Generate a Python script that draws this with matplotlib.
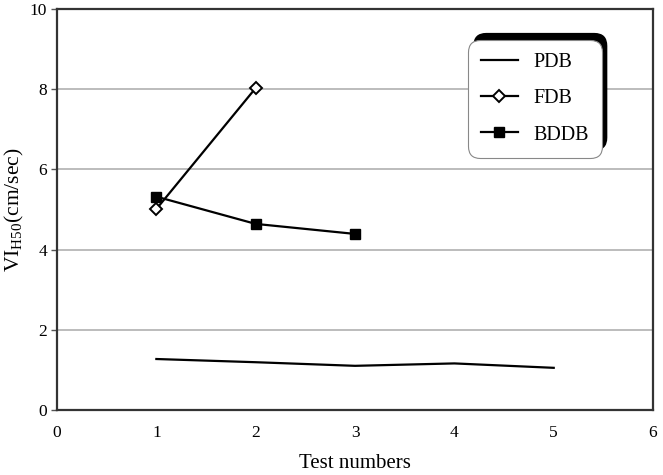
import matplotlib
matplotlib.use("Agg")
import matplotlib.pyplot as plt
from matplotlib.patches import FancyBboxPatch
from matplotlib.transforms import IdentityTransform

# data
pdb_x = [1, 2, 3, 4, 5]
pdb_y = [1.27, 1.19, 1.10, 1.16, 1.05]
fdb_x = [1, 2]
fdb_y = [5.01, 8.03]
bddb_x = [1, 2, 3]
bddb_y = [5.32, 4.64, 4.39]

plt.rcParams['font.family'] = ['Liberation Serif', 'DejaVu Serif']

fig = plt.figure(figsize=(6.63, 4.75), dpi=100)
ax = fig.add_axes([0.086, 0.137, 0.899, 0.844])

ax.plot(pdb_x, pdb_y, "-", color="black", lw=1.6, label="PDB")
ax.plot(fdb_x, fdb_y, "-D", color="black", lw=1.6, mfc="white", mec="black",
        mew=1.4, ms=6.5, label="FDB")
ax.plot(bddb_x, bddb_y, "-s", color="black", lw=1.6, ms=7, label="BDDB")

ax.set_xlim(0, 6); ax.set_ylim(0, 10)
ax.set_xticks(range(0, 7)); ax.set_yticks(range(0, 11, 2))
ax.yaxis.grid(True, color="#aaaaaa", lw=1.1)
ax.set_axisbelow(True)
ax.tick_params(labelsize=12.5, color="#555555")
ax.tick_params(axis="x", length=0, pad=11)
ax.tick_params(axis="y", length=4, width=1, pad=3)
for s in ax.spines.values():
    s.set_linewidth(1.6)
    s.set_color("#333333")
ax.set_xlabel("Test numbers", fontsize=15, labelpad=9)
ax.set_ylabel(r"VI$_{\mathregular{H50}}$(cm/sec)", fontsize=15.5, labelpad=3)

leg = ax.legend(loc="upper left", bbox_to_anchor=(0.690, 0.923), borderaxespad=0,
                fontsize=14.5, handlelength=1.8, labelspacing=0.85, borderpad=0.65,
                handletextpad=0.8, fancybox=True, framealpha=1, edgecolor="#888888")
leg.get_frame().set_linewidth(0.8)
leg.get_frame().set_boxstyle("round", pad=0, rounding_size=0.6)
leg.set_zorder(5)

# shadow offset to the upper right, as in the reference
fig.canvas.draw()
bb = leg.get_window_extent()
shadow = FancyBboxPatch((bb.x0 + 5, bb.y0 + 7), bb.width, bb.height,
                        boxstyle="round,pad=0,rounding_size=13",
                        transform=IdentityTransform(), facecolor="black",
                        edgecolor="none", zorder=4)
ax.add_artist(shadow)
shadow.set_clip_on(False)

fig.savefig("out.png", dpi=100)
